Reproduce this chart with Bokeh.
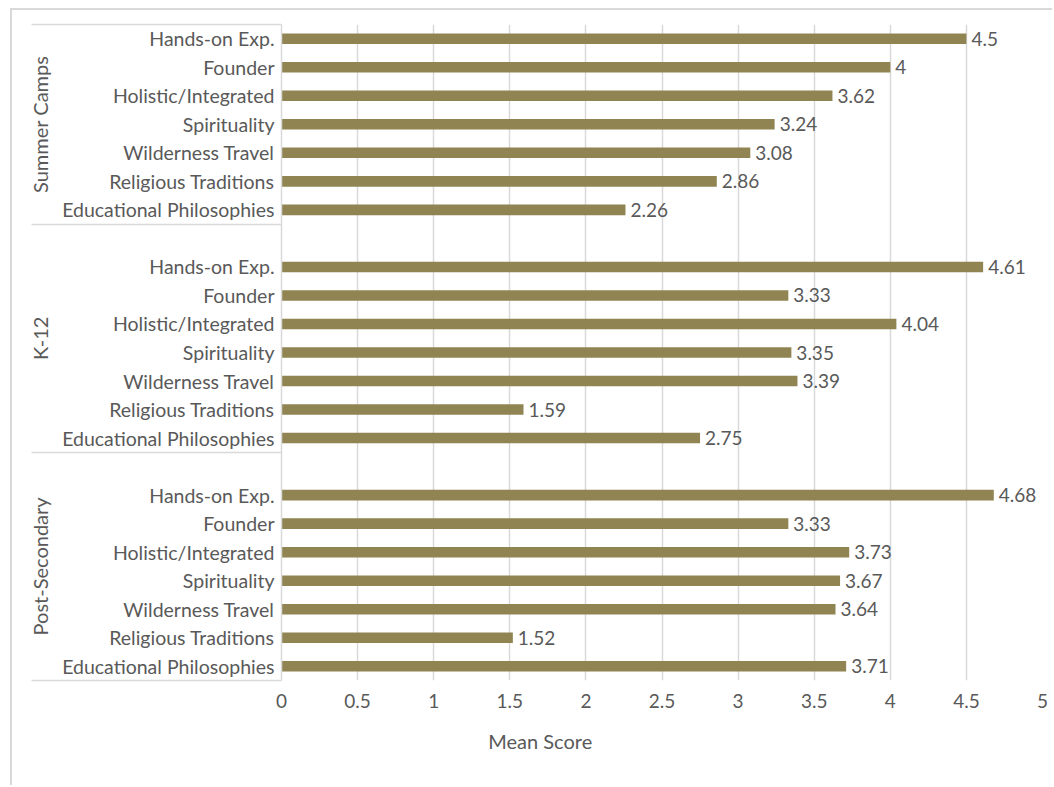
from bokeh.plotting import figure
from bokeh.models import Range1d, FixedTicker, LinearAxis, ColumnDataSource
from bokeh.core.properties import value
from bokeh.embed import file_html
from bokeh.resources import INLINE

# ---- data ----
groups = ["Summer Camps", "K-12", "Post-Secondary"]
categories = ["Hands-on Exp.", "Founder", "Holistic/Integrated", "Spirituality",
              "Wilderness Travel", "Religious Traditions", "Educational Philosophies"]
summer_camps = [4.5, 4, 3.62, 3.24, 3.08, 2.86, 2.26]
k_12 = [4.61, 3.33, 4.04, 3.35, 3.39, 1.59, 2.75]
post_secondary = [4.68, 3.33, 3.73, 3.67, 3.64, 1.52, 3.71]
x_ticks = [0, 0.5, 1, 1.5, 2, 2.5, 3, 3.5, 4, 4.5, 5]
x_tick_labels = ["0", "0.5", "1", "1.5", "2", "2.5", "3", "3.5", "4", "4.5", "5"]
x_title = "Mean Score"

# ---- layout helpers ----
FONT = "Lato"
TXT = "#595959"
GRID = "#D9D9D9"
BAR = "#8F8452"
LW = 1.5
SLOTS_PER_GROUP = len(categories) + 1  # one blank slot between groups
n_slots = SLOTS_PER_GROUP * len(groups) - 1
SEP_LEN = 250

series = [summer_camps, k_12, post_secondary]
ys, vals, labs = [], [], []
for g, vs in enumerate(series):
    for i, v in enumerate(vs):
        ys.append(g * SLOTS_PER_GROUP + i)
        vals.append(v)
        labs.append(f"{v:g}")
src = ColumnDataSource(dict(y=ys, v=vals, t=labs))

boundaries = [-0.5] + [g * SLOTS_PER_GROUP + len(categories) - 0.5 for g in range(len(groups))]
group_centers = [(boundaries[g] + boundaries[g + 1]) / 2 for g in range(len(groups))]

p = figure(width=1042, height=777, x_range=Range1d(0, 5), y_range=Range1d(n_slots - 0.5, -0.5),
           output_backend="svg", toolbar_location=None,
           min_border_left=269, min_border_right=12, min_border_top=14, min_border_bottom=107)
p.styles = {"margin-left": "10px", "margin-top": "8px",
            "border-left": "2px solid #D9D9D9", "border-top": "2px solid #D9D9D9"}
p.outline_line_color = None
p.background_fill_color = "white"
p.border_fill_color = "white"

p.hbar(y="y", left=0, right="v", height=0.37, source=src, fill_color=BAR, line_color=None)
p.text(x="v", y="y", text="t", source=src, x_offset=5, text_baseline="middle", text_align="left",
       text_font=value(FONT), text_font_size="19px", text_color=TXT)

# grid
p.ygrid.visible = False
p.xgrid.grid_line_color = GRID
p.xgrid.grid_line_width = LW

# x axis
xa = p.xaxis[0]
xa.ticker = FixedTicker(ticks=x_ticks)
xa.major_label_overrides = {t: l for t, l in zip(x_ticks, x_tick_labels)}
xa.axis_line_color = None
xa.major_tick_line_color = None
xa.minor_tick_line_color = None
xa.major_label_standoff = 7
xa.major_label_text_font = FONT
xa.major_label_text_font_size = "19px"
xa.major_label_text_color = TXT

# x title as its own axis (placed left of centre like the original)
title_pos = 1.7
ta = LinearAxis(ticker=FixedTicker(ticks=[title_pos]), major_label_overrides={title_pos: x_title},
                axis_line_color=None, major_tick_line_color=None, minor_tick_line_color=None,
                major_label_standoff=12, major_label_text_font=FONT,
                major_label_text_font_size="20px", major_label_text_color=TXT)
p.add_layout(ta, "below")

# y axis: category labels + separator lines (minor ticks)
ya = p.yaxis[0]
ya.ticker = FixedTicker(ticks=ys, minor_ticks=boundaries)
ya.major_label_overrides = {y: categories[y % SLOTS_PER_GROUP] for y in ys}
ya.axis_line_color = GRID
ya.axis_line_width = LW
ya.major_tick_line_color = None
ya.major_tick_out = 0
ya.major_tick_in = 0
ya.minor_tick_line_color = GRID
ya.minor_tick_line_width = LW
ya.minor_tick_out = SEP_LEN
ya.minor_tick_in = 0
ya.major_label_standoff = 7 - SEP_LEN
ya.major_label_text_font = FONT
ya.major_label_text_font_size = "19.5px"
ya.major_label_text_color = TXT

# group labels
ga = LinearAxis(ticker=FixedTicker(ticks=group_centers),
                major_label_overrides={c: g for c, g in zip(group_centers, groups)},
                major_label_orientation="vertical",
                axis_line_color=None, major_tick_line_color=None, minor_tick_line_color=None,
                major_tick_out=0, major_label_standoff=7, major_label_text_font=FONT,
                major_label_text_font_size="20px", major_label_text_color=TXT)
p.add_layout(ga, "left")

open("out.html", "w").write(file_html(p, INLINE))
